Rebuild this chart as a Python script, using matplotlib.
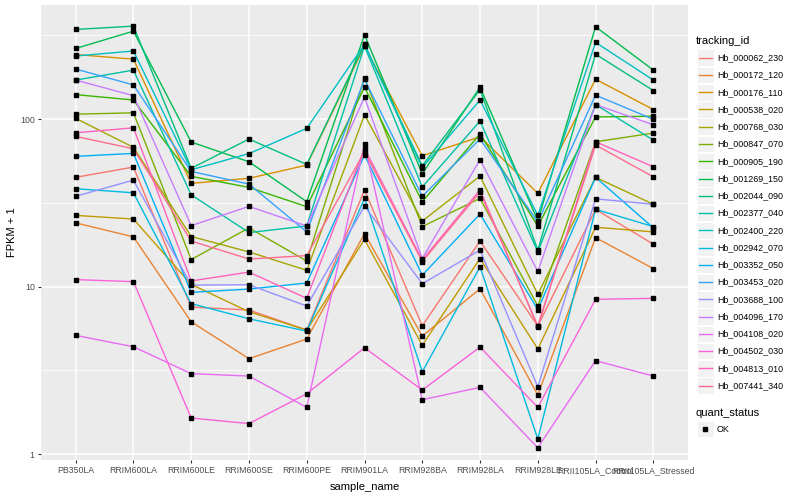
import matplotlib
matplotlib.use("Agg")
import matplotlib.pyplot as plt
from matplotlib.lines import Line2D
from matplotlib.patches import Rectangle

plt.rcParams['font.family'] = ['Liberation Sans', 'DejaVu Sans']

samples = ["PB350LA", "RRIM600LA", "RRIM600LE", "RRIM600SE", "RRIM600PE", "RRIM901LA",
           "RRIM928BA", "RRIM928LA", "RRIM928LE", "RRII105LA_Control", "RRII105LA_Stressed"]

tracking_ids = ["Hb_000062_230", "Hb_000172_120", "Hb_000176_110", "Hb_000538_020",
                "Hb_000768_030", "Hb_000847_070", "Hb_000905_190", "Hb_001269_150",
                "Hb_002044_090", "Hb_002377_040", "Hb_002400_220", "Hb_002942_070",
                "Hb_003352_050", "Hb_003453_020", "Hb_003688_100", "Hb_004096_170",
                "Hb_004108_020", "Hb_004502_030", "Hb_004813_010", "Hb_007441_340"]

colors = ["#F8766D", "#EA8331", "#D89000", "#C09B00", "#A3A500", "#7CAE00", "#39B600",
          "#00BB4E", "#00BF7D", "#00C1A3", "#00BFC4", "#00BAE0", "#00B0F6", "#35A2FF",
          "#9590FF", "#C77CFF", "#E76BF3", "#FA62DB", "#FF62BC", "#FF6C91"]

# FPKM + 1 per tracking_id, in sample order
Hb_000062_230 = [44.9, 51.7, 7.54, 7.24, 5.50, 37.7, 5.83, 18.7, 5.81, 28.9, 17.9]
Hb_000172_120 = [24.0, 19.8, 6.16, 3.71, 4.86, 20.7, 5.06, 9.70, 2.25, 19.6, 12.8]
Hb_000176_110 = [243, 228, 41.3, 44.3, 53.1, 273, 60.4, 78.4, 36.0, 173, 114]
Hb_000538_020 = [26.6, 25.3, 10.3, 7.07, 5.50, 19.1, 4.46, 14.7, 4.24, 22.6, 21.2]
Hb_000768_030 = [101, 67.8, 19.9, 16.1, 12.5, 106, 24.6, 45.7, 8.98, 44.9, 31.0]
Hb_000847_070 = [107, 109, 14.5, 22.4, 14.2, 176, 22.8, 33.6, 7.65, 73.2, 82.5]
Hb_000905_190 = [140, 130, 45.5, 39.1, 30.0, 155, 32.1, 81.4, 23.0, 103, 104]
Hb_001269_150 = [264, 335, 72.9, 55.6, 32.1, 319, 47.1, 155, 24.7, 356, 196]
Hb_002044_090 = [343, 359, 50.8, 76.0, 53.6, 279, 52.6, 150, 16.5, 244, 148]
Hb_002377_040 = [171, 196, 35.3, 21.0, 23.0, 273, 39.3, 97.3, 16.1, 122, 74.9]
Hb_002400_220 = [238, 255, 49.8, 62.2, 88.0, 279, 51.2, 130, 26.6, 287, 171]
Hb_002942_070 = [38.4, 36.3, 7.91, 6.42, 5.42, 33.6, 3.10, 13.1, 1.23, 28.9, 22.8]
Hb_003352_050 = [59.9, 62.4, 9.23, 9.66, 10.5, 61.0, 11.7, 27.1, 7.29, 44.9, 22.4]
Hb_003453_020 = [199, 160, 48.7, 40.9, 21.2, 173, 34.6, 76.0, 24.3, 139, 99.6]
Hb_003688_100 = [34.6, 43.2, 10.2, 10.25, 7.65, 30.2, 10.4, 16.5, 2.52, 33.4, 31.0]
Hb_004096_170 = [171, 138, 23.1, 30.1, 23.0, 135, 14.7, 57.3, 12.3, 122, 92.5]
Hb_004108_020 = [5.11, 4.37, 3.02, 2.92, 1.90, 70.9, 2.11, 2.50, 1.09, 3.61, 2.92]
Hb_004502_030 = [11.0, 10.7, 1.64, 1.52, 2.29, 4.31, 2.41, 4.35, 1.90, 8.39, 8.50]
Hb_004813_010 = [82.8, 88.7, 10.8, 12.2, 8.50, 66.8, 14.4, 37.8, 5.75, 73.2, 51.9]
Hb_007441_340 = [78.8, 66.5, 18.7, 14.6, 15.3, 63.8, 14.1, 36.6, 5.81, 70.0, 45.2]

series = [Hb_000062_230, Hb_000172_120, Hb_000176_110, Hb_000538_020, Hb_000768_030,
          Hb_000847_070, Hb_000905_190, Hb_001269_150, Hb_002044_090, Hb_002377_040,
          Hb_002400_220, Hb_002942_070, Hb_003352_050, Hb_003453_020, Hb_003688_100,
          Hb_004096_170, Hb_004108_020, Hb_004502_030, Hb_004813_010, Hb_007441_340]

W, H = 800, 500
fig = plt.figure(figsize=(W / 100, H / 100), dpi=100)
L, R, T, B = 41, 688, 5, 460
ax = fig.add_axes([L / W, 1 - B / H, (R - L) / W, (B - T) / H])
ax.set_facecolor("#EBEBEB")
for s in ax.spines.values():
    s.set_visible(False)

xs = list(range(len(samples)))
for vals, col in zip(series, colors):
    ax.plot(xs, vals, color=col, lw=1.0, zorder=3, solid_capstyle='butt')
for vals in series:
    ax.plot(xs, vals, ls='none', marker='s', ms=2.9, color='black', zorder=4)

ax.set_yscale('log')
ax.set_ylim(0.921, 480)
ax.set_xlim(-0.6, len(samples) - 0.4)
ax.set_yticks([1, 10, 100])
ax.set_yticklabels(["1", "10", "100"])
ax.set_yticks([10 ** 0.5, 10 ** 1.5, 10 ** 2.5], minor=True)
ax.yaxis.set_minor_formatter(matplotlib.ticker.NullFormatter())
ax.set_xticks(xs)
ax.set_xticklabels(samples)
ax.tick_params(axis='both', which='major', length=2.5, width=0.8, color="#333333",
               labelcolor="#4D4D4D", labelsize=6.3, pad=2)
ax.tick_params(axis='y', which='minor', length=0)
ax.grid(True, which='major', color='white', lw=1.1, zorder=0)
ax.grid(True, which='minor', axis='y', color='white', lw=0.55, zorder=0)
ax.set_axisbelow(True)
ax.set_xlabel("sample_name", fontsize=8, color='black')
ax.set_ylabel("FPKM + 1", fontsize=8, color='black')
ax.xaxis.set_label_coords(0.5, -(487 - B) / (B - T))
ax.xaxis.label.set_va('center')
ax.yaxis.set_label_coords(-(L - 12) / (R - L), 0.5)
ax.yaxis.label.set_va('center')

# legends
lg = fig.add_axes([0, 0, 1, 1], facecolor='none')
lg.set_xlim(0, W)
lg.set_ylim(H, 0)
lg.axis('off')
lg.text(696, 40.5, "tracking_id", fontsize=8, va='center', ha='left')
y0, dy = 57.7, 17.26
for i, (tid, col) in enumerate(zip(tracking_ids, colors)):
    yc = y0 + i * dy
    lg.add_patch(Rectangle((696.5, yc - 8.3), 17, 16.6, facecolor="#F2F2F2", edgecolor='white', lw=0.8))
    lg.add_line(Line2D([698.5, 712], [yc, yc], color=col, lw=1.0))
    lg.text(717, yc, tid, fontsize=6.4, va='center', ha='left')
lg.text(696, 412.5, "quant_status", fontsize=8, va='center', ha='left')
lg.add_patch(Rectangle((696.5, 420.5), 17, 16.6, facecolor="#F2F2F2", edgecolor='white', lw=0.8))
lg.plot([705], [429], marker='s', ms=2.9, color='black', ls='none')
lg.text(717, 429, "OK", fontsize=6.4, va='center', ha='left')

fig.savefig("out.png", dpi=100)
